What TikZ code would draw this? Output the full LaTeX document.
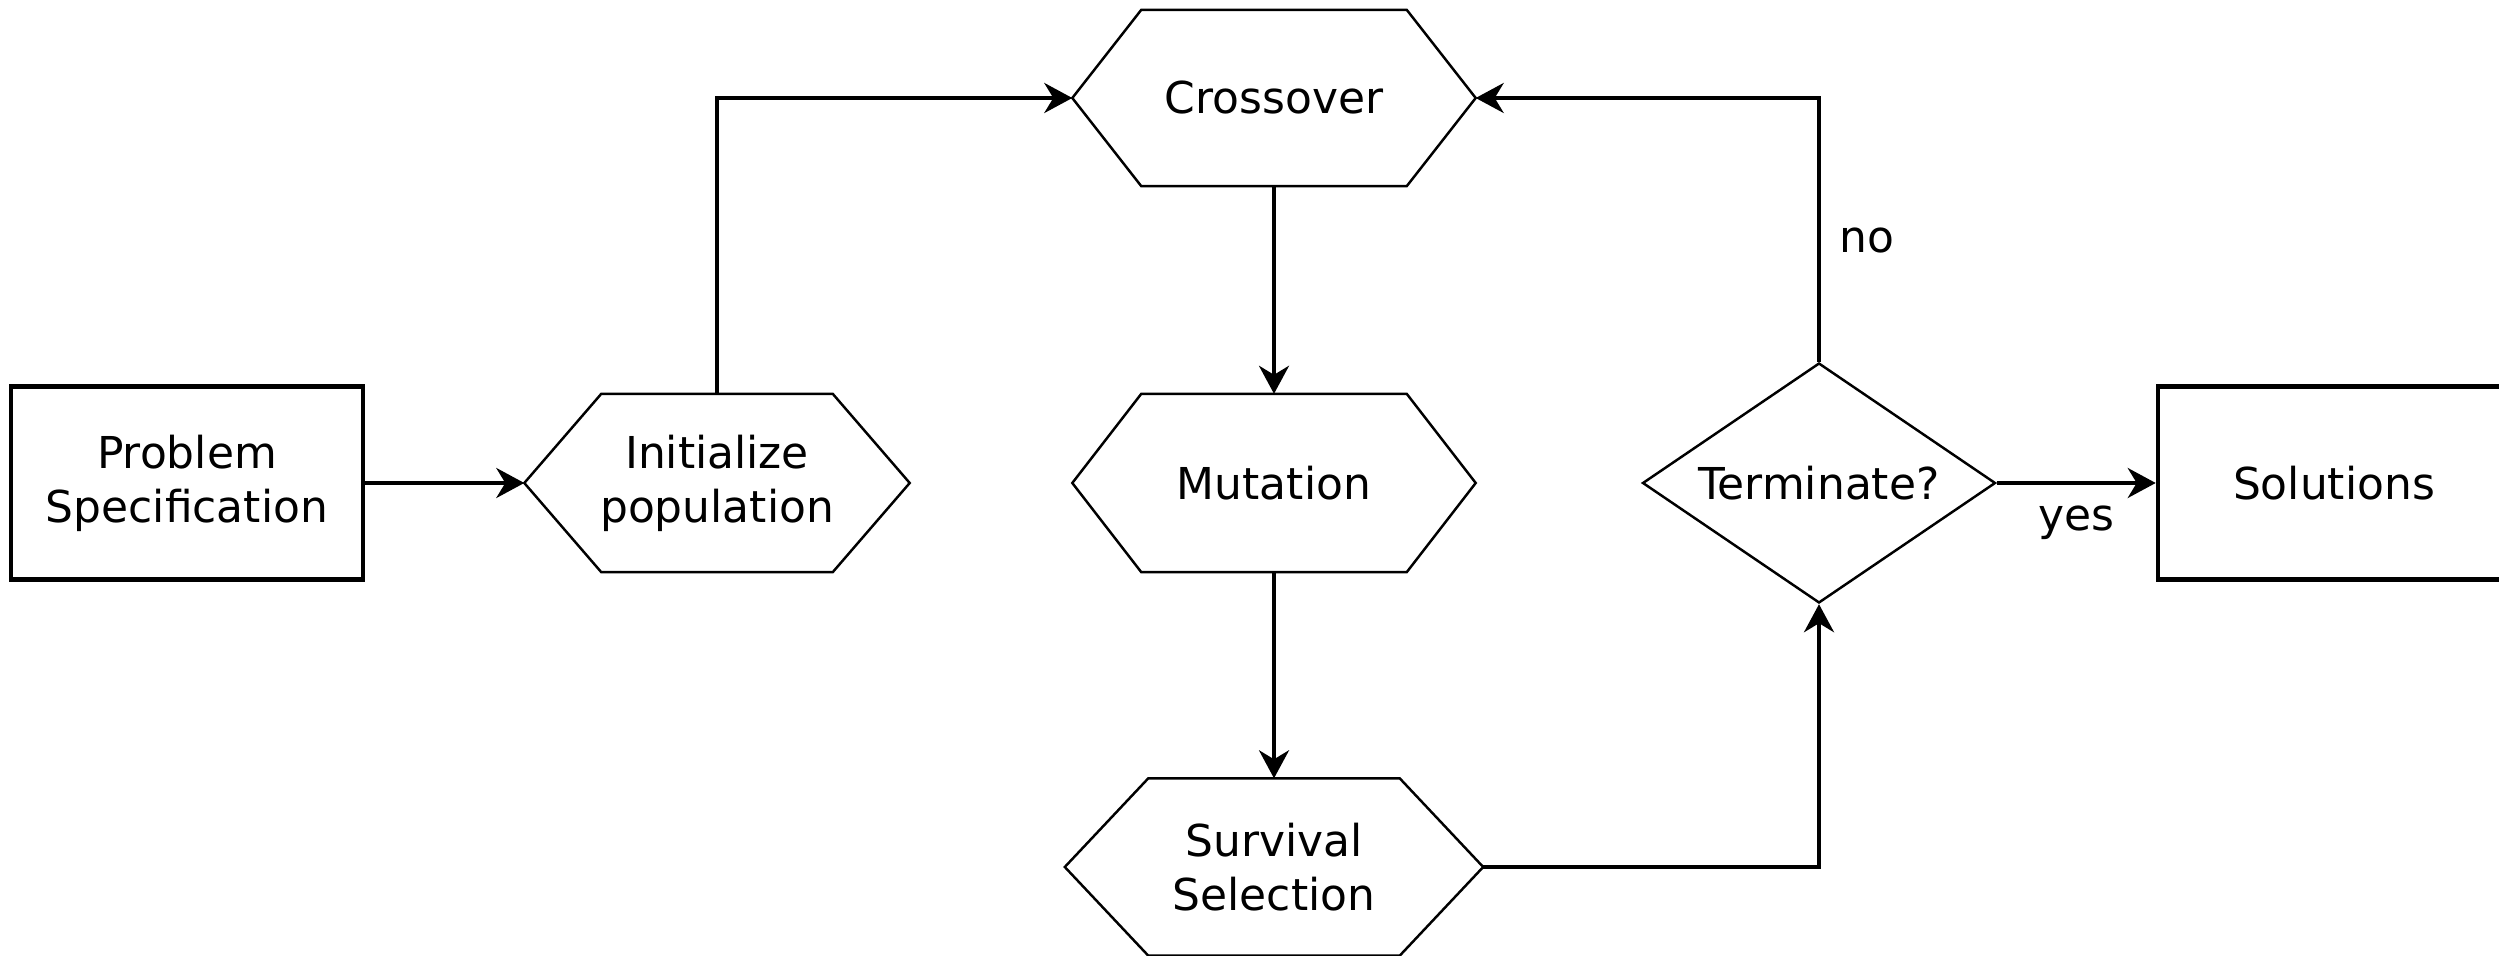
\documentclass[tikz,border=0pt]{standalone}
\usepackage{fontspec}
\setmainfont{DejaVu Sans}
\usetikzlibrary{shapes.geometric,arrows.meta}

\tikzset{
  box/.style={draw, line width=1.3pt, minimum width=3.52cm, minimum height=1.93cm, align=center, inner sep=0pt},
  hexnode/.style={minimum height=1.77cm, align=center, inner sep=0pt},
  hexline/.style={line width=0.7pt},
  decision/.style={draw, diamond, aspect=1.47, line width=0.7pt, minimum width=3.53cm, minimum height=2.40cm, inner sep=0pt},
  flow/.style={line width=1.1pt, -{Stealth[length=0.28cm,width=0.30cm,inset=0.09cm]}},
}

\begin{document}
\begin{tikzpicture}[font=\fontsize{12.5}{15.4}\selectfont]
  \useasboundingbox (0,0) rectangle (24.99,9.55);
  \node[box] (spec) at (1.87,4.72) {Problem\\Specification};
  \node[hexnode, minimum width=3.84cm] (init) at (7.17,4.72) {Initialize\\population};
  \node[hexnode, minimum width=4.02cm, minimum height=1.75cm] (cross) at (12.74,8.57) {Crossover};
  \node[hexnode, minimum width=4.02cm] (mut) at (12.74,4.72) {Mutation};
  \node[hexnode, minimum width=4.17cm, minimum height=1.76cm] (surv) at (12.74,0.88) {Survival\\Selection};
  \node[decision] (term) at (18.19,4.72) {Terminate?};
  \node[box] (sol) at (23.34,4.72) {Solutions};

  % hexagon outlines
  \foreach \n/\t in {init/0.77, cross/0.69, mut/0.69, surv/0.835}
    \draw[hexline] (\n.west) -- ([xshift=\t cm]\n.north west) -- ([xshift=-\t cm]\n.north east)
      -- (\n.east) -- ([xshift=-\t cm]\n.south east) -- ([xshift=\t cm]\n.south west) -- cycle;

  \draw[flow] (spec.east) -- (init.west);
  \draw[flow] (init.north) |- (cross.west);
  \draw[flow] (cross.south) -- (mut.north);
  \draw[flow] (mut.south) -- (surv.north);
  \draw[flow] (surv.east) -| (term.south);
  \draw[flow] (term.north) |- node[pos=0.23, right=0.07cm] {no} (cross.east);
  \draw[flow] (term.east) -- node[below=0.09cm] {yes} (sol.west);
\end{tikzpicture}
\end{document}
